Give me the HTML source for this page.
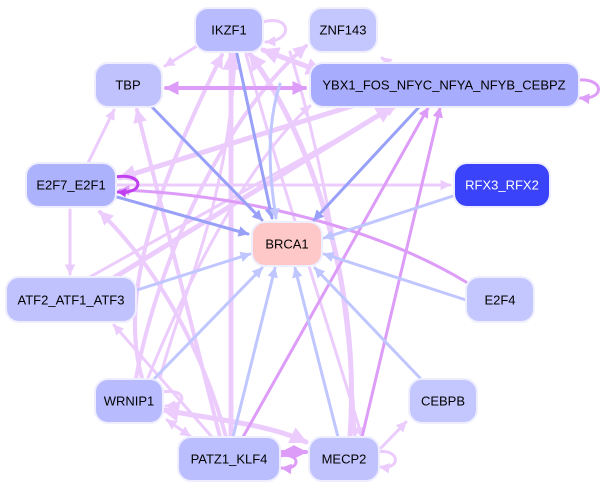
<!DOCTYPE html>
<html><head><meta charset="utf-8"><style>
html,body{margin:0;padding:0;background:#fff;width:608px;height:489px;overflow:hidden}
svg{display:block}
text{font-family:"Liberation Sans",sans-serif;font-size:13px;text-anchor:middle;dominant-baseline:central}
</style></head><body>
<svg width="608" height="489" viewBox="0 0 608 489" xmlns="http://www.w3.org/2000/svg">
<defs>
<marker id="a1" viewBox="0 0 10 10" refX="9" refY="5" markerWidth="3.5" markerHeight="3.5" orient="auto-start-reverse" markerUnits="strokeWidth"><path d="M0,0L10,5L0,10z" fill="#ecccfc"/></marker>
<marker id="a2" viewBox="0 0 10 10" refX="9" refY="5" markerWidth="3.5" markerHeight="3.5" orient="auto-start-reverse" markerUnits="strokeWidth"><path d="M0,0L10,5L0,10z" fill="#dc9cf8"/></marker>
<marker id="a3" viewBox="0 0 10 10" refX="9" refY="5" markerWidth="3.5" markerHeight="3.5" orient="auto-start-reverse" markerUnits="strokeWidth"><path d="M0,0L10,5L0,10z" fill="#98a0f8"/></marker>
<marker id="a4" viewBox="0 0 10 10" refX="9" refY="5" markerWidth="3.5" markerHeight="3.5" orient="auto-start-reverse" markerUnits="strokeWidth"><path d="M0,0L10,5L0,10z" fill="#c0c6ff"/></marker>
<marker id="a5" viewBox="0 0 10 10" refX="9" refY="5" markerWidth="3" markerHeight="3" orient="auto-start-reverse" markerUnits="strokeWidth"><path d="M0,0L10,5L0,10z" fill="#c040f0"/></marker>
</defs>
<g fill="none" stroke-linecap="round">
<!-- light pink edges -->
<g stroke="#ecccfc" marker-end="url(#a1)">
<path d="M197,46L165,66" stroke-width="3"/>
<path d="M263,22C290,14 295,40 266,42" stroke-width="3"/>
<path d="M263,50L322,72" stroke-width="5" marker-start="url(#a1)"/>
<path d="M402,72L382,58" stroke-width="3"/>
<path d="M352,106L120,178" stroke-width="5"/>
<path d="M115,185L450,185" stroke-width="3"/>
<path d="M88,163L114,110" stroke-width="3"/>
<path d="M70,210L70,274" stroke-width="3"/>
<path d="M88,278L395,107" stroke-width="3"/>
<path d="M115,277L392,107" stroke-width="5"/>
<path d="M231,437L231,54" stroke-width="5"/>
<path d="M350,437C360,300 320,150 250,54" stroke-width="5"/>
<path d="M220,437L137,110" stroke-width="4"/>
<path d="M212,437L114,325" stroke-width="3"/>
<path d="M226,437C200,340 150,260 100,212" stroke-width="4"/>
<path d="M136,378C160,250 230,110 306,46" stroke-width="4"/>
<path d="M142,378C120,300 150,200 222,55" stroke-width="4"/>
<path d="M148,378C200,250 260,150 310,106" stroke-width="3"/>
<path d="M163,410C220,420 270,425 306,442" stroke-width="5" marker-start="url(#a1)"/>
<path d="M167,420L190,436" stroke-width="3" marker-start="url(#a1)"/>
<path d="M163,392C185,388 190,405 166,406" stroke-width="3"/>
<path d="M381,448L406,422" stroke-width="3"/>
<path d="M377,452C400,448 402,470 380,467" stroke-width="3"/>
<path d="M246,54C280,180 330,330 362,437" stroke-width="3"/>
<path d="M290,52C320,150 350,300 355,437" stroke-width="3"/>
<path d="M160,378C180,300 230,200 235,54" stroke-width="3"/>
</g>
<!-- medium purple -->
<g stroke="#dc9cf8" marker-end="url(#a2)">
<path d="M166,88L305,88" stroke-width="4" marker-start="url(#a2)"/>
<path d="M578,80C605,78 605,100 580,98" stroke-width="3"/>
<path d="M466,282C380,230 250,195 120,190" stroke-width="3"/>
<path d="M243,437L428,108" stroke-width="3"/>
<path d="M362,437L440,108" stroke-width="3"/>
<path d="M282,452L306,452" stroke-width="4" marker-start="url(#a2)"/>
<path d="M280,456C300,452 302,470 282,468" stroke-width="3"/>
</g>
<!-- blue -->
<g stroke="#98a0f8" marker-end="url(#a3)">
<path d="M152,107L262,220" stroke-width="3"/>
<path d="M237,54L272,218" stroke-width="3"/>
<path d="M420,106L314,220" stroke-width="3"/>
<path d="M117,197L248,234" stroke-width="3"/>
</g>
<g stroke="#c0c6ff" marker-end="url(#a4)">
<path d="M280,84C265,130 270,180 276,218" stroke-width="3"/>
<path d="M453,196L324,238" stroke-width="3"/>
<path d="M466,300L324,254" stroke-width="3"/>
<path d="M137,290L250,254" stroke-width="3"/>
<path d="M153,380L262,268" stroke-width="3"/>
<path d="M233,437L275,268" stroke-width="3"/>
<path d="M338,437L295,268" stroke-width="3"/>
<path d="M420,378L315,268" stroke-width="3"/>
</g>
<path d="M115,177C145,172 145,195 118,192" stroke="#c040f0" stroke-width="3" marker-end="url(#a5)"/>
</g>
<!-- nodes -->
<g stroke="#eeeeff" stroke-width="2">
<rect x="195" y="8" width="68" height="44" rx="13" fill="#b8bcfe"/>
<rect x="309" y="8" width="68" height="44" rx="13" fill="#c4c6fe"/>
<rect x="95" y="63" width="67" height="44" rx="13" fill="#c0c2fe"/>
<rect x="310" y="63" width="269" height="44" rx="13" fill="#a8acfc"/>
<rect x="26" y="163" width="90" height="44" rx="13" fill="#adb2fc"/>
<rect x="454" y="163" width="96" height="44" rx="13" fill="#3a42fa"/>
<rect x="252" y="222" width="70" height="44" rx="13" fill="#ffc8c8"/>
<rect x="6" y="277" width="130" height="45" rx="13" fill="#c0c2fe"/>
<rect x="466" y="277" width="68" height="45" rx="13" fill="#c4c6fe"/>
<rect x="95" y="379" width="68" height="44" rx="13" fill="#b8bcfe"/>
<rect x="409" y="379" width="68" height="44" rx="13" fill="#c4c6fe"/>
<rect x="178" y="437" width="102" height="44" rx="13" fill="#babefe"/>
<rect x="309" y="437" width="70" height="44" rx="13" fill="#c0c2fe"/>
</g>
<text x="229" y="30">IKZF1</text>
<text x="343" y="30">ZNF143</text>
<text x="128" y="85">TBP</text>
<text x="444" y="85">YBX1_FOS_NFYC_NFYA_NFYB_CEBPZ</text>
<text x="71" y="185">E2F7_E2F1</text>
<text x="502" y="185" fill="#fff">RFX3_RFX2</text>
<text x="287" y="244">BRCA1</text>
<text x="71" y="300">ATF2_ATF1_ATF3</text>
<text x="500" y="300">E2F4</text>
<text x="129" y="401">WRNIP1</text>
<text x="443" y="401">CEBPB</text>
<text x="229" y="459">PATZ1_KLF4</text>
<text x="344" y="459">MECP2</text>
</svg>
</body></html>
